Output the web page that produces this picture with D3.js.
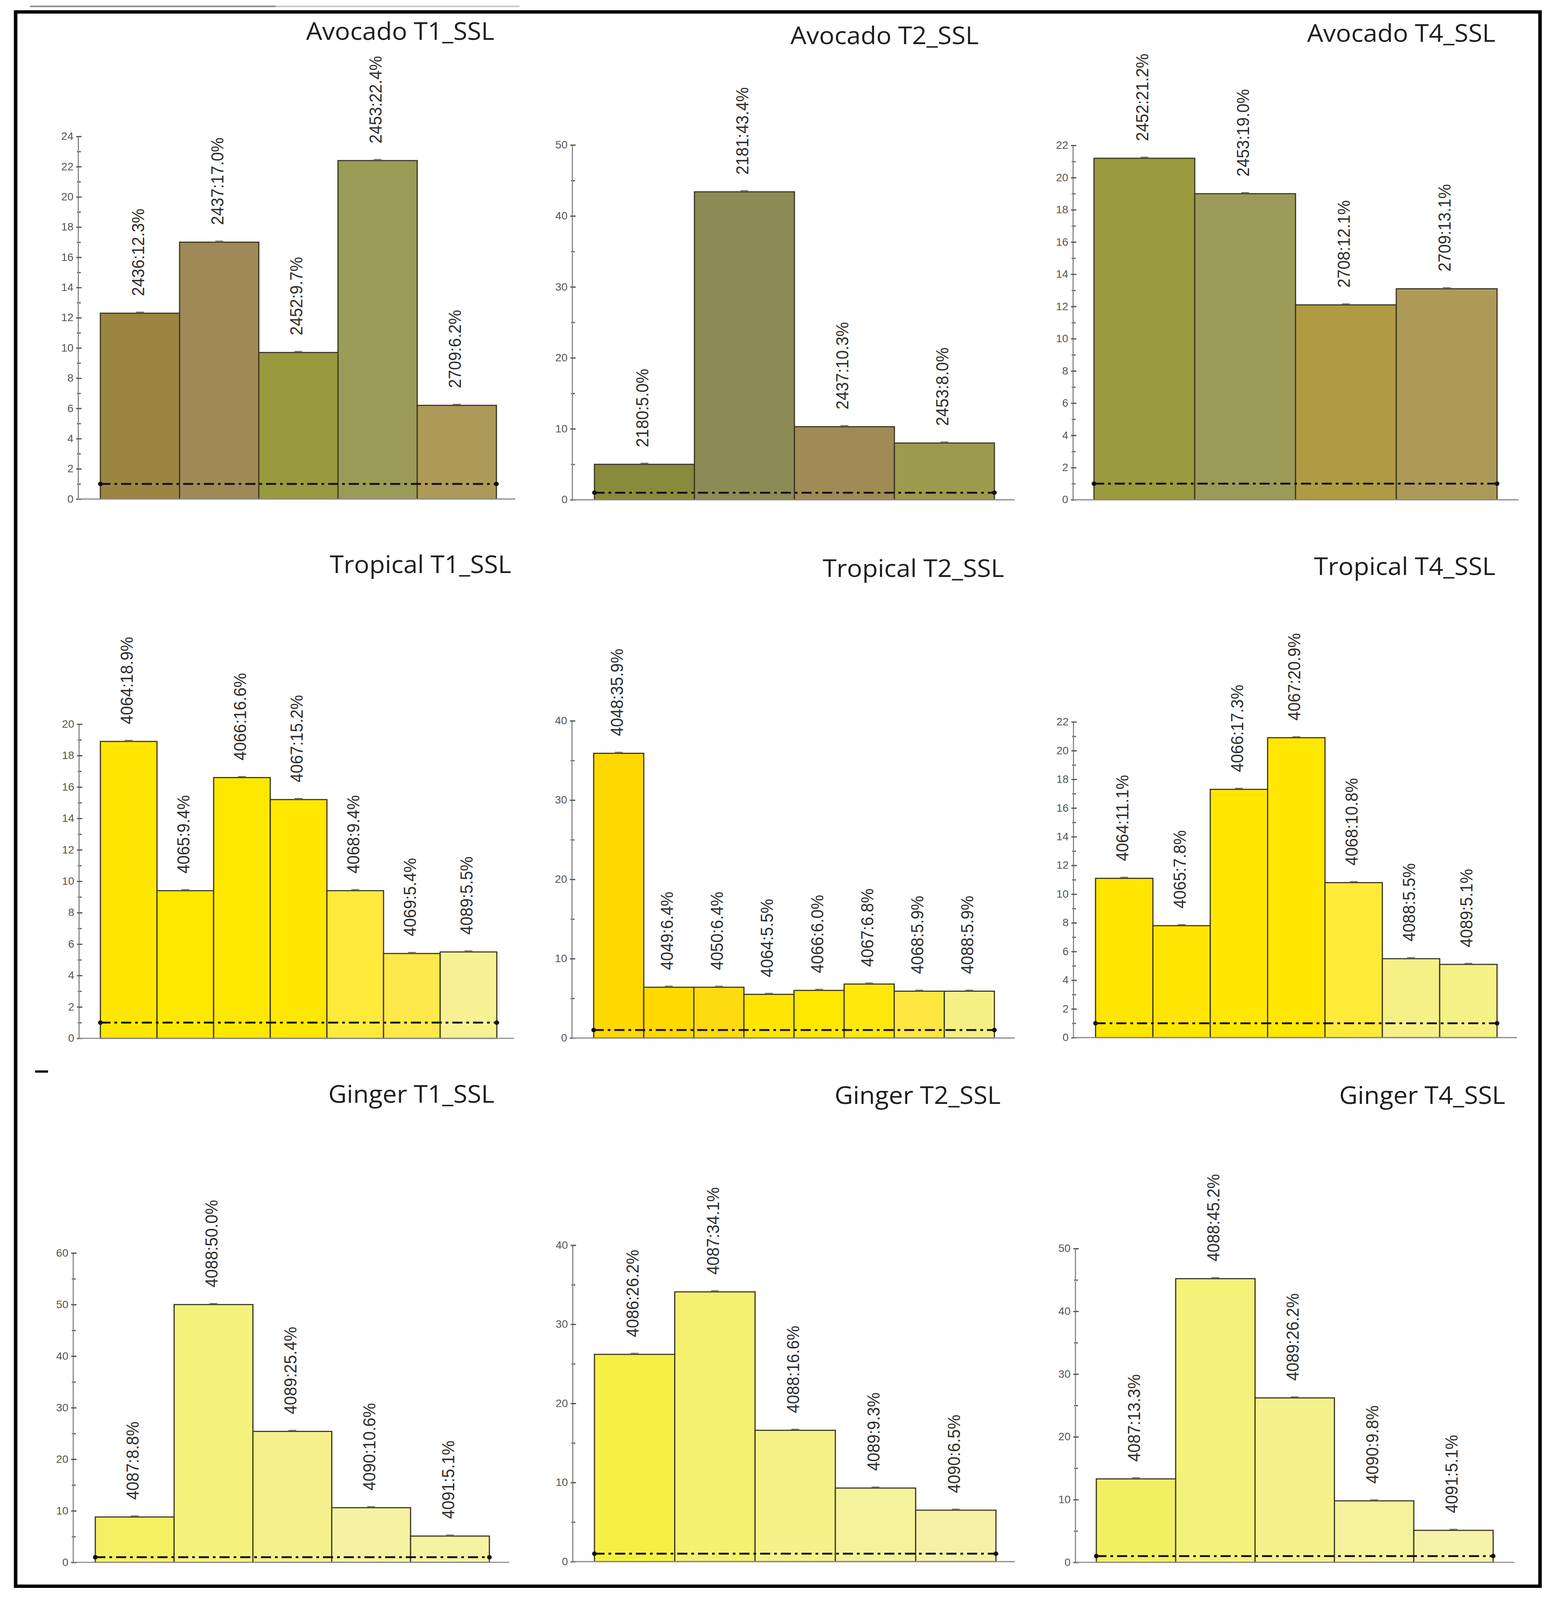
<!DOCTYPE html>
<html>
<head>
<meta charset="utf-8">
<script src="https://cdn.jsdelivr.net/npm/d3@7"></script>
<style>
  html, body { margin: 0; padding: 0; background: #ffffff; overflow: hidden; width: 100%; height: 100%; }
  svg { display: block; width: 100vw; height: 100vh; }
</style>
</head>
<body>
<svg id="chart" viewBox="0 0 3966 4293" preserveAspectRatio="none"></svg>
<script>
// ---------------- DATA ----------------
const panelTitles = [
  "Avocado T1_SSL", "Avocado T2_SSL", "Avocado T4_SSL",
  "Tropical T1_SSL", "Tropical T2_SSL", "Tropical T4_SSL",
  "Ginger T1_SSL", "Ginger T2_SSL", "Ginger T4_SSL"
];

const avocadoT1Ids = ["2436", "2437", "2452", "2453", "2709"];
const avocadoT1Values = [12.3, 17.0, 9.7, 22.4, 6.2];

const avocadoT2Ids = ["2180", "2181", "2437", "2453"];
const avocadoT2Values = [5.0, 43.4, 10.3, 8.0];

const avocadoT4Ids = ["2452", "2453", "2708", "2709"];
const avocadoT4Values = [21.2, 19.0, 12.1, 13.1];

const tropicalT1Ids = ["4064", "4065", "4066", "4067", "4068", "4069", "4089"];
const tropicalT1Values = [18.9, 9.4, 16.6, 15.2, 9.4, 5.4, 5.5];

const tropicalT2Ids = ["4048", "4049", "4050", "4064", "4066", "4067", "4068", "4088"];
const tropicalT2Values = [35.9, 6.4, 6.4, 5.5, 6.0, 6.8, 5.9, 5.9];

const tropicalT4Ids = ["4064", "4065", "4066", "4067", "4068", "4088", "4089"];
const tropicalT4Values = [11.1, 7.8, 17.3, 20.9, 10.8, 5.5, 5.1];

const gingerT1Ids = ["4087", "4088", "4089", "4090", "4091"];
const gingerT1Values = [8.8, 50.0, 25.4, 10.6, 5.1];

const gingerT2Ids = ["4086", "4087", "4088", "4089", "4090"];
const gingerT2Values = [26.2, 34.1, 16.6, 9.3, 6.5];

const gingerT4Ids = ["4087", "4088", "4089", "4090", "4091"];
const gingerT4Values = [13.3, 45.2, 26.2, 9.8, 5.1];

// y-axis extents and tick steps
const yMaxes = [24, 50, 22, 20, 40, 22, 60, 40, 50];
const majorSteps = [2, 10, 2, 2, 10, 2, 10, 10, 10];
const minorSteps = [1, 5, 1, 1, 5, 1, 5, 5, 5];
const referenceValue = 1;

// ---------------- STYLES ----------------
const avocadoT1Colors = ["#9b8541", "#9f8a57", "#999a3f", "#9b9b58", "#ae9a58"];
const avocadoT2Colors = ["#8a8a3c", "#8c8b56", "#a08a56", "#9c9a4c"];
const avocadoT4Colors = ["#9a9a3e", "#9c9a59", "#b09a42", "#ad9a58"];
const tropicalT1Colors = ["#ffe600", "#ffe800", "#ffe800", "#ffe700", "#ffea3c", "#ffe84a", "#f6f192"];
const tropicalT2Colors = ["#ffd800", "#ffd900", "#ffda10", "#ffe600", "#ffe800", "#ffe80c", "#ffe640", "#f5f084"];
const tropicalT4Colors = ["#ffe600", "#ffe600", "#ffe700", "#ffe700", "#ffea3a", "#f6f186", "#f6f186"];
const gingerT1Colors = ["#f5ef64", "#f5f27c", "#f5f08c", "#f5f2a2", "#f5f2a4"];
const gingerT2Colors = ["#f6f044", "#f5f070", "#f5f28a", "#f5f29c", "#f5f2a8"];
const gingerT4Colors = ["#f2ef62", "#f5f27a", "#f5f28c", "#f5f29e", "#f5f2aa"];

// ---------------- LAYOUT (pixel geometry, kept separate from data) ----------------
const layout = [
  { axisX: 200,  y0: 1339, yTop: 366,  barL: 257,  barR: 1271, lineR: 1319, titleR: 1266, titleY: 107 },
  { axisX: 1465, y0: 1341, yTop: 389,  barL: 1522, barR: 2546, lineR: 2598, titleR: 2506, titleY: 118 },
  { axisX: 2747, y0: 1341, yTop: 390,  barL: 2801, barR: 3833, lineR: 3888, titleR: 3829, titleY: 112 },
  { axisX: 202,  y0: 2786, yTop: 1943, barL: 257,  barR: 1272, lineR: 1316, titleR: 1309, titleY: 1538 },
  { axisX: 1464, y0: 2785, yTop: 1934, barL: 1520, barR: 2546, lineR: 2598, titleR: 2571, titleY: 1548 },
  { axisX: 2748, y0: 2784, yTop: 1937, barL: 2805, barR: 3833, lineR: 3884, titleR: 3829, titleY: 1543 },
  { axisX: 187,  y0: 4192, yTop: 3362, barL: 244,  barR: 1253, lineR: 1304, titleR: 1266, titleY: 2959 },
  { axisX: 1466, y0: 4190, yTop: 3341, barL: 1522, barR: 2550, lineR: 2598, titleR: 2562, titleY: 2962 },
  { axisX: 2753, y0: 4192, yTop: 3350, barL: 2807, barR: 3823, lineR: 3877, titleR: 3854, titleY: 2962 }
];

const panelIds = [avocadoT1Ids, avocadoT2Ids, avocadoT4Ids, tropicalT1Ids, tropicalT2Ids, tropicalT4Ids, gingerT1Ids, gingerT2Ids, gingerT4Ids];
const panelValues = [avocadoT1Values, avocadoT2Values, avocadoT4Values, tropicalT1Values, tropicalT2Values, tropicalT4Values, gingerT1Values, gingerT2Values, gingerT4Values];
const panelColors = [avocadoT1Colors, avocadoT2Colors, avocadoT4Colors, tropicalT1Colors, tropicalT2Colors, tropicalT4Colors, gingerT1Colors, gingerT2Colors, gingerT4Colors];

const svg = d3.select("#chart");

// background
svg.append("rect").attr("x", 0).attr("y", 0).attr("width", 3966).attr("height", 4293).attr("fill", "#ffffff");

// stray top line remnants
svg.append("line").attr("x1", 77).attr("x2", 706).attr("y1", 17).attr("y2", 17)
  .attr("stroke", "#8c8c8c").attr("stroke-width", 4);
svg.append("line").attr("x1", 706).attr("x2", 1330).attr("y1", 17).attr("y2", 17)
  .attr("stroke", "#c8c8c8").attr("stroke-width", 4);

// outer frame
svg.append("rect").attr("x", 40).attr("y", 32).attr("width", 3903).attr("height", 4224)
  .attr("fill", "none").attr("stroke", "#000").attr("stroke-width", 9);

// small stray dash
svg.append("line").attr("x1", 90).attr("x2", 123).attr("y1", 2875).attr("y2", 2875)
  .attr("stroke", "#000").attr("stroke-width", 6);

panelTitles.forEach((title, i) => {
  const L = layout[i];
  const ids = panelIds[i];
  const vals = panelValues[i];
  const cols = panelColors[i];
  const g = svg.append("g");

  const x = d3.scaleBand().domain(ids.map((d, k) => k)).range([L.barL, L.barR]).paddingInner(0).paddingOuter(0);
  const y = d3.scaleLinear().domain([0, yMaxes[i]]).range([L.y0, L.yTop]);

  // bars
  g.selectAll("rect.bar").data(vals).enter().append("rect")
    .attr("class", "bar")
    .attr("x", (d, k) => x(k))
    .attr("y", d => y(d))
    .attr("width", x.bandwidth())
    .attr("height", d => y(0) - y(d))
    .attr("fill", (d, k) => cols[k])
    .attr("stroke", "#3b3620")
    .attr("stroke-width", 3);

  // tiny error caps
  g.selectAll("line.cap").data(vals).enter().append("line")
    .attr("x1", (d, k) => x(k) + x.bandwidth() / 2 - 10)
    .attr("x2", (d, k) => x(k) + x.bandwidth() / 2 + 10)
    .attr("y1", d => y(d) - 3)
    .attr("y2", d => y(d) - 3)
    .attr("stroke", "#555").attr("stroke-width", 2);

  // minor ticks axis
  const minorTicks = d3.range(0, yMaxes[i] + 1e-9, minorSteps[i]);
  const majorTicks = d3.range(0, yMaxes[i] + 1e-9, majorSteps[i]);

  const minorAxis = d3.axisLeft(y).tickValues(minorTicks).tickSize(-7).tickFormat("");
  const ma = g.append("g").attr("transform", `translate(${L.axisX},0)`).call(minorAxis);
  ma.select(".domain").remove();
  ma.selectAll(".tick line").attr("stroke", "#555").attr("stroke-width", 3).attr("x1", -3);

  const majorAxis = d3.axisLeft(y).tickValues(majorTicks).tickSize(-9).tickPadding(12).tickFormat(d3.format("d"));
  const mj = g.append("g").attr("transform", `translate(${L.axisX},0)`).call(majorAxis);
  mj.select(".domain").attr("stroke", "#8a8a8a").attr("stroke-width", 3);
  mj.selectAll(".tick line").attr("stroke", "#555").attr("stroke-width", 3).attr("x1", -5);
  mj.selectAll(".tick text")
    .attr("font-family", "Liberation Sans, Arial, sans-serif")
    .attr("font-size", 28)
    .attr("fill", "#555");

  // baseline (x axis line)
  g.append("line")
    .attr("x1", L.axisX).attr("x2", L.lineR)
    .attr("y1", y(0)).attr("y2", y(0))
    .attr("stroke", "#8a8a8a").attr("stroke-width", 3);

  // reference dash-dot line at 1
  g.append("line")
    .attr("x1", L.barL).attr("x2", L.barR)
    .attr("y1", y(referenceValue)).attr("y2", y(referenceValue))
    .attr("stroke", "#111").attr("stroke-width", 5)
    .attr("stroke-dasharray", "26,10,7,10");
  [L.barL, L.barR].forEach(px => {
    g.append("circle").attr("cx", px).attr("cy", y(referenceValue)).attr("r", 6).attr("fill", "#111");
  });

  // rotated value labels
  g.selectAll("text.lbl").data(vals).enter().append("text")
    .attr("class", "lbl")
    .attr("transform", (d, k) => `translate(${x(k) + x.bandwidth() / 2 - 5},${y(d) - 46}) rotate(-90)`)
    .attr("dy", "0.35em")
    .attr("text-anchor", "start")
    .attr("font-family", "Liberation Sans, Arial, sans-serif")
    .attr("font-size", 44)
    .attr("fill", "#2e2e2e")
    .text((d, k) => `${ids[k]}:${d.toFixed(1)}%`);

  // title
  g.append("text")
    .attr("x", L.titleR).attr("y", L.titleY)
    .attr("text-anchor", "end")
    .attr("font-family", "Open Sans, sans-serif")
    .attr("font-size", 65)
    .attr("fill", "#1e1e1e")
    .text(title);
});
</script>
</body>
</html>
